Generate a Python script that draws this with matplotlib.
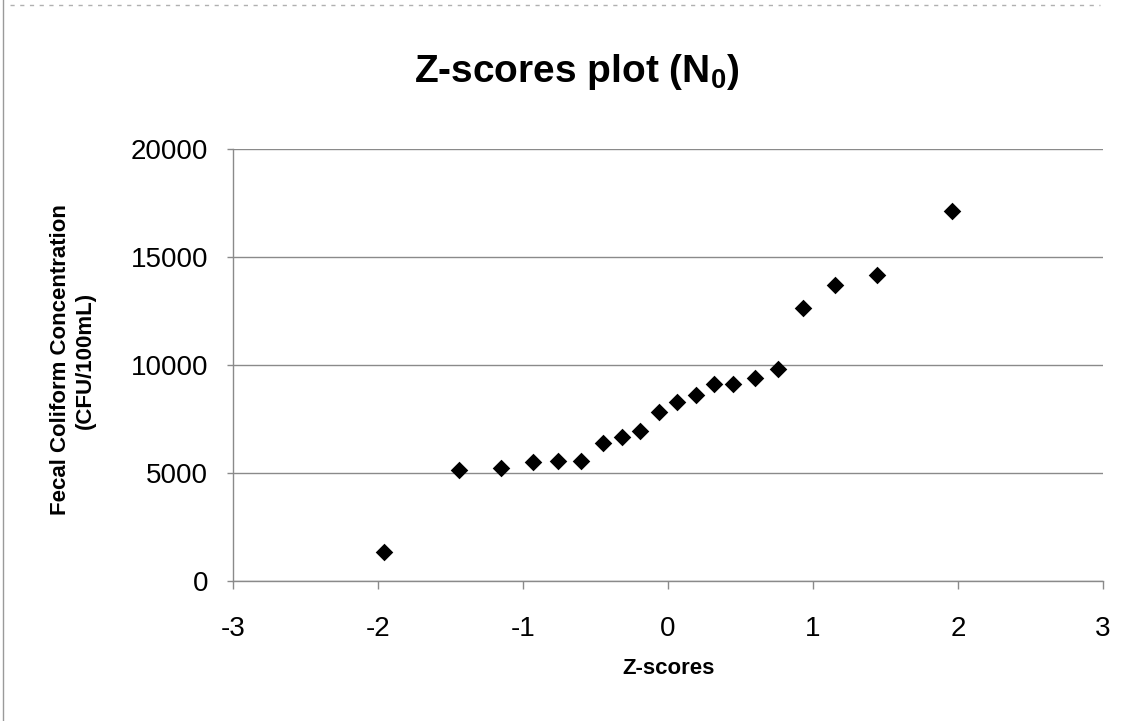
import matplotlib
matplotlib.use("Agg")
import matplotlib.pyplot as plt
from matplotlib.lines import Line2D

plt.rcParams['font.family'] = ['Liberation Sans', 'DejaVu Sans']

z_scores = [-1.96, -1.44, -1.15, -0.93, -0.76, -0.60, -0.45, -0.32, -0.19, -0.06,
            0.06, 0.19, 0.32, 0.45, 0.60, 0.76, 0.93, 1.15, 1.44, 1.96]
concentration = [1360, 5140, 5220, 5500, 5570, 5570, 6380, 6650, 6960, 7840,
                 8290, 8630, 9130, 9130, 9410, 9830, 12650, 13720, 14150, 17130]
x_ticks = [-3, -2, -1, 0, 1, 2, 3]
y_ticks = [0, 5000, 10000, 15000, 20000]

W, H = 1138, 721
fig = plt.figure(figsize=(W / 100, H / 100), dpi=100)
ax = fig.add_axes([233 / W, 1 - 581 / H, (1103 - 233) / W, (581 - 149) / H])

grid_col = '#8a8a8a'
ax.scatter(z_scores, concentration, marker='D', s=80, color='black', zorder=3, linewidths=0)

ax.set_xlim(-3, 3)
ax.set_ylim(0, 20000)
ax.set_xticks(x_ticks)
ax.set_yticks(y_ticks)
ax.set_xticklabels([str(v) for v in x_ticks])
ax.set_yticklabels([str(v) for v in y_ticks])
ax.yaxis.grid(True, color=grid_col, linewidth=1.0)
ax.set_axisbelow(True)

for s in ['top', 'right']:
    ax.spines[s].set_visible(False)
for s in ['left', 'bottom']:
    ax.spines[s].set_color(grid_col)
    ax.spines[s].set_linewidth(1.0)

ax.tick_params(axis='y', length=4, width=1, color=grid_col, pad=14, labelsize=20)
ax.tick_params(axis='x', length=6, width=1, color=grid_col, pad=19, labelsize=20)

fig.text(577 / W, 1 - 72 / H, 'Z-scores plot (N$_\\mathregular{0}$)', ha='center', va='center',
         fontsize=28, fontweight='bold')
fig.text(669 / W, 1 - 668 / H, 'Z-scores', ha='center', va='center', fontsize=16, fontweight='bold')
fig.text(73 / W, 1 - 360 / H, 'Fecal Coliform Concentration\n(CFU/100mL)', ha='center', va='center',
         rotation=90, fontsize=16, fontweight='bold', multialignment='center', linespacing=1.25)

# scanned frame edges
fig.add_artist(Line2D([3 / W, 3 / W], [0, 1], transform=fig.transFigure, color='#9a9a9a', linewidth=1))
fig.add_artist(Line2D([10 / W, 1100 / W], [1 - 5 / H, 1 - 5 / H], transform=fig.transFigure,
                      color='#b0b0b0', linewidth=1, linestyle=(0, (3, 4))))

fig.savefig('out.png', dpi=100)
